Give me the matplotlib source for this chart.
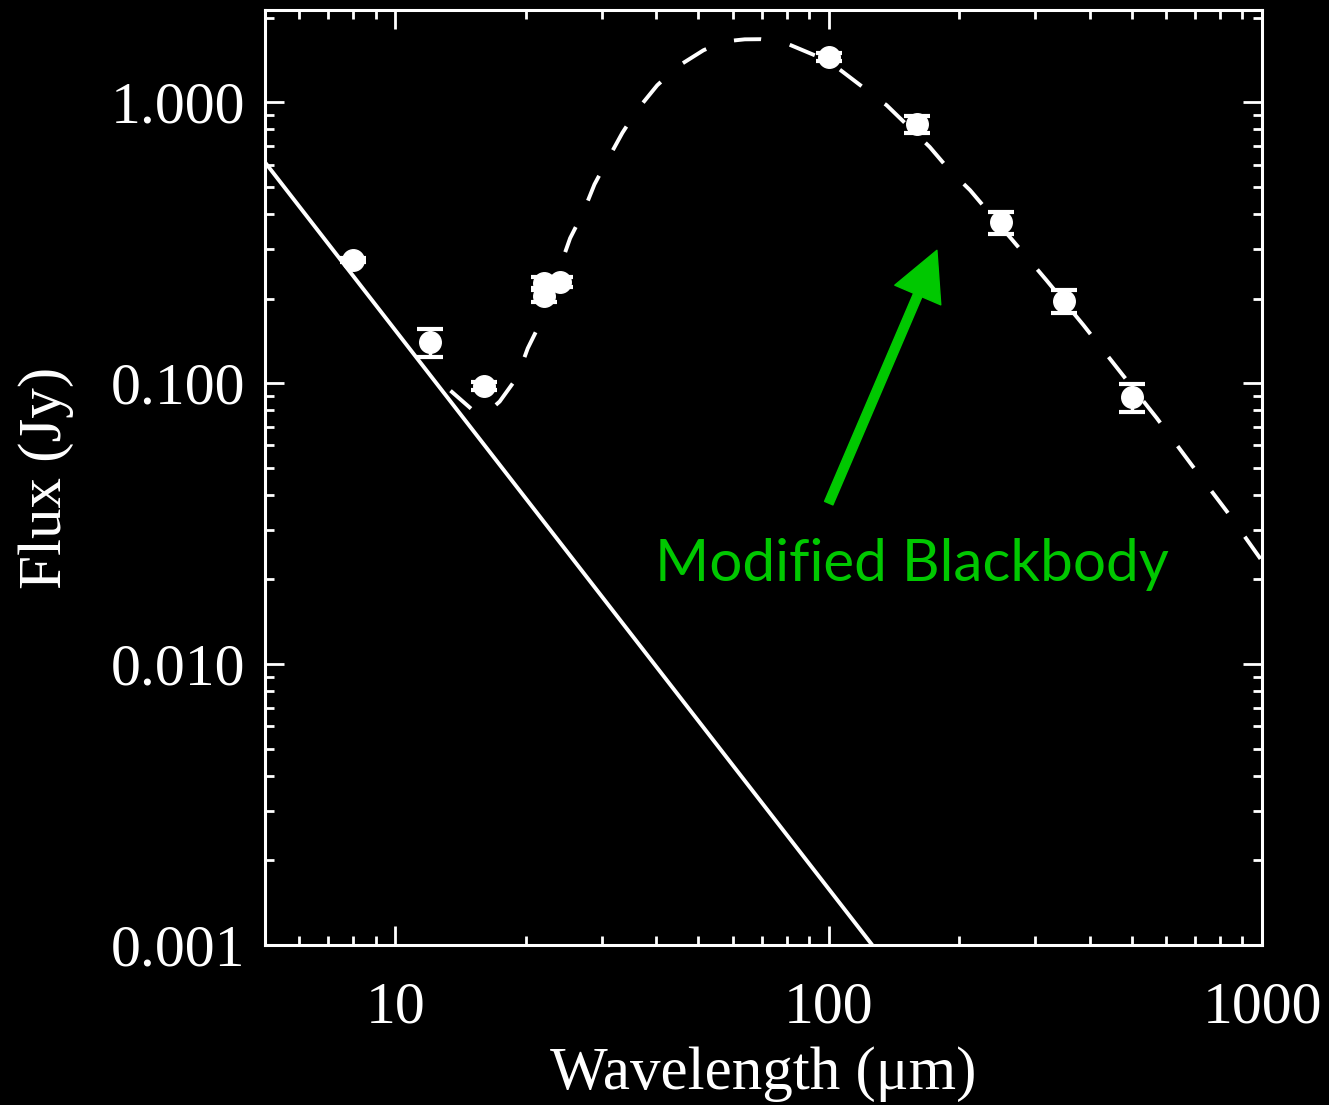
import numpy as np
import matplotlib.pyplot as plt
from matplotlib.ticker import LogLocator, NullFormatter

plt.rcParams['font.family'] = ['Liberation Serif', 'DejaVu Serif']

# photometry: wavelength (micron), flux and error (Jy)
wave = [8, 12, 16, 22, 22, 24, 100, 160, 250, 350, 500]
flux = [0.274, 0.140, 0.0976, 0.228, 0.204, 0.229, 1.446, 0.835, 0.374, 0.196, 0.0891]
flux_err = [0.005, 0.016, 0.003, 0.010, 0.010, 0.010, 0.05, 0.055, 0.034, 0.018, 0.010]

# stellar photosphere, Rayleigh-Jeans tail (straight in log-log)
star_wave = [5, 126]
star_flux = [0.611, 0.001]

# photosphere + modified blackbody fit
model_wave = [13.4, 15.1, 16.2, 17.4, 19.1, 20.2, 21.6, 25.3, 27.1, 28.8, 30.9,
              33.4, 36.2, 40.2, 45.0, 51.4, 55.0, 59.4, 64.0, 69.7, 75.0, 81.0, 100, 121, 131,
              136, 171, 190, 212, 318, 387, 470, 572, 689, 829, 990, 1000]
model_flux = [0.094, 0.080, 0.078, 0.086, 0.105, 0.133, 0.164, 0.328, 0.404, 0.510, 0.625,
              0.778, 0.942, 1.149, 1.346, 1.531, 1.600, 1.654, 1.674, 1.676, 1.650, 1.605, 1.40, 1.119, 1.016,
              0.976, 0.693, 0.573, 0.486, 0.2325, 0.161, 0.110, 0.075, 0.051, 0.035, 0.0238, 0.0232]

green = '#00c800'

fig = plt.figure(figsize=(13.29, 11.05), dpi=100, facecolor='black')
ax = fig.add_axes([0.1994, 0.1448, 0.7502, 0.8462], facecolor='black')

ax.plot(star_wave, star_flux, color='white', lw=2.8, solid_capstyle='butt')
ax.plot(model_wave, model_flux, color='white', lw=2.8, dashes=(7, 7.5))
ax.errorbar(wave, flux, yerr=flux_err, fmt='o', color='white', ms=15.5,
            capsize=9.5, capthick=3, elinewidth=2.5, zorder=5)

# label pointing at the fit
ax.annotate('', xy=(177.7, 0.297), xytext=(100, 0.0374),
            arrowprops=dict(arrowstyle='simple,head_length=35,head_width=36,tail_width=6.5',
                            color=green, mutation_scale=1, shrinkA=0, shrinkB=0))
ax.text(155.6, 0.0226, 'Modified Blackbody', color=green, fontsize=42,
        family=['Lato', 'DejaVu Sans'], ha='center', va='center')

ax.set_xscale('log')
ax.set_yscale('log')
ax.set_xlim(5, 1000)
ax.set_ylim(0.001, 2.13)

ax.set_xticks([10, 100, 1000], ['10', '100', '1000'])
ax.set_yticks([0.001, 0.01, 0.1, 1], ['0.001', '0.010', '0.100', '1.000'])
ax.xaxis.set_minor_locator(LogLocator(subs=np.arange(2, 10)))
ax.yaxis.set_minor_locator(LogLocator(subs=np.arange(2, 10)))
ax.xaxis.set_minor_formatter(NullFormatter())
ax.yaxis.set_minor_formatter(NullFormatter())

ax.tick_params(which='both', direction='in', top=True, right=True,
               colors='white', labelsize=43)
ax.tick_params(which='major', length=13.5, width=2)
ax.tick_params(which='minor', length=6.5, width=2)
ax.tick_params(axis='x', pad=26)
ax.tick_params(axis='y', pad=14)
for s in ax.spines.values():
    s.set_color('white')
    s.set_linewidth(2.2)

ax.set_xlabel('Wavelength (μm)', color='white', fontsize=44, labelpad=8)
ax.set_ylabel('Flux (Jy)', color='white', fontsize=44, labelpad=27)

fig.savefig('out.png', dpi=100, facecolor='black')
